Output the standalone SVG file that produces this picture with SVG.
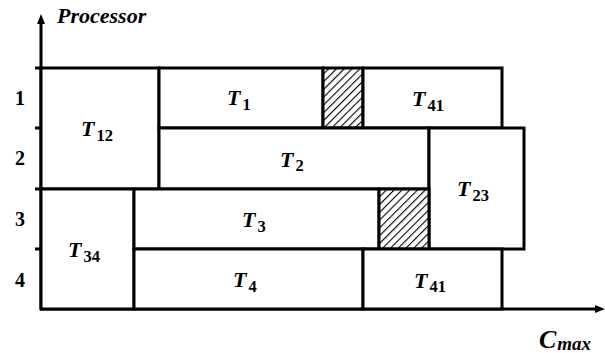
<svg xmlns="http://www.w3.org/2000/svg" width="605" height="353" viewBox="0 0 605 353">
<style>
.box{fill:#fff;stroke:#000;stroke-width:3}
.hatch{fill:url(#hp);stroke:#000;stroke-width:3}
.ax{stroke:#000;stroke-width:3;fill:none}
text{font-family:"Liberation Serif","Times New Roman","DejaVu Serif",serif;fill:#000}
.t{font-weight:bold;font-style:italic;font-size:22px}
.s{font-style:normal;font-size:16.5px}
.num{font-weight:bold;font-size:20px;text-anchor:middle}
.lab{font-weight:bold;font-style:italic;font-size:22px}
</style>
<defs>
<pattern id="hp" patternUnits="userSpaceOnUse" width="5.5" height="5.5" patternTransform="rotate(45)">
<rect width="5.5" height="5.5" fill="#fff"/>
<line x1="0" y1="0" x2="0" y2="5.5" stroke="#000" stroke-width="2.2"/>
</pattern>
</defs>
<g id="axes">
<line class="ax" x1="41" y1="22" x2="41" y2="309"/>
<polygon points="41,14 37,24 45,24" fill="#000"/>
<line class="ax" x1="40" y1="309" x2="597" y2="309"/>
<polygon points="605,309 595,305 595,313" fill="#000"/>
<line class="ax" x1="35" y1="68" x2="41" y2="68"/>
<line class="ax" x1="35" y1="128" x2="41" y2="128"/>
<line class="ax" x1="35" y1="189" x2="41" y2="189"/>
<line class="ax" x1="35" y1="249" x2="41" y2="249"/>
<text class="lab" x="57" y="23">Processor</text>
<text class="t" x="539" y="348" style="font-size:26px">C<tspan class="s" dx="1" dy="2" style="font-style:italic;font-size:19px">max</tspan></text>
<text class="num" x="20" y="105">1</text>
<text class="num" x="20" y="165">2</text>
<text class="num" x="20" y="226">3</text>
<text class="num" x="20" y="287">4</text>
</g>
<g id="T12"><rect class="box" x="41" y="68" width="118" height="121"/><text class="t" x="81" y="136">T<tspan class="s" dx="2" dy="5">12</tspan></text></g>
<g id="T1"><rect class="box" x="159" y="68" width="164" height="60"/><text class="t" x="227" y="105">T<tspan class="s" dx="2" dy="5">1</tspan></text></g>
<g id="idle1"><rect class="hatch" x="323" y="68" width="40" height="60"/></g>
<g id="T41a"><rect class="box" x="363" y="68" width="139" height="60"/><text class="t" x="412" y="106">T<tspan class="s" dx="2" dy="5">41</tspan></text></g>
<g id="T2"><rect class="box" x="159" y="128" width="270" height="61"/><text class="t" x="280" y="167">T<tspan class="s" dx="2" dy="4">2</tspan></text></g>
<g id="T23"><rect class="box" x="429" y="128" width="95" height="121"/><text class="t" x="457" y="196">T<tspan class="s" dx="2" dy="5">23</tspan></text></g>
<g id="T34"><rect class="box" x="41" y="189" width="93" height="120"/><text class="t" x="68" y="257">T<tspan class="s" dx="2" dy="5">34</tspan></text></g>
<g id="T3"><rect class="box" x="134" y="189" width="245" height="60"/><text class="t" x="242" y="227">T<tspan class="s" dx="2" dy="5">3</tspan></text></g>
<g id="idle3"><rect class="hatch" x="379" y="189" width="50" height="60"/></g>
<g id="T4"><rect class="box" x="134" y="249" width="229" height="60"/><text class="t" x="233" y="287">T<tspan class="s" dx="2" dy="5">4</tspan></text></g>
<g id="T41b"><rect class="box" x="363" y="249" width="139" height="60"/><text class="t" x="414" y="288">T<tspan class="s" dx="2" dy="4">41</tspan></text></g>
</svg>
